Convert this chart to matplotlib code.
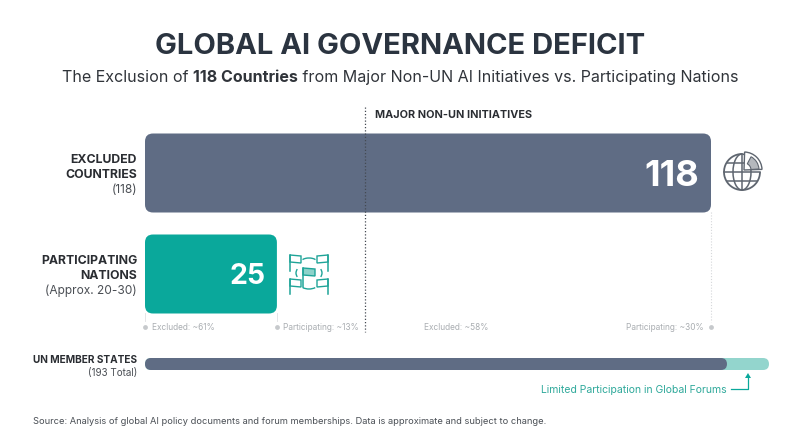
import matplotlib
matplotlib.use('Agg')
import matplotlib.pyplot as plt
from matplotlib.patches import FancyBboxPatch, Arc, Wedge, Polygon

plt.rcParams['font.family'] = ['Inter', 'DejaVu Sans']

# data
bar_names = ['excluded', 'participating']
bar_lengths = [118, 27.5]     # drawn length, the 25 bar is not to scale in the original
bar_values = ['118', '25']
bar_colors = ['#5f6c84', '#0aa89b']
un_total = 193
un_excluded = 180
share_labels = ['Excluded: ~61%', 'Participating: ~13%', 'Excluded: ~58%', 'Participating: ~30%']
share_x = [152, 283, 424, 626]

W, H = 800, 447
DARK = '#2b3440'
TEXT = '#30343a'
GREY = '#a9adb1'
SLATE = '#5f6c84'
TEAL = '#0aa89b'
TEAL_TXT = '#2fa99b'
LIGHT = '#93d5cd'

fig = plt.figure(figsize=(8, 4.47), dpi=100, facecolor='white')

def px_axes(x0, y0, x1, y1):
    return fig.add_axes([x0 / W, 1 - y1 / H, (x1 - x0) / W, (y1 - y0) / H])

# overlay in pixel coordinates for labels and icons
ov = fig.add_axes([0, 0, 1, 1], zorder=5)
ov.set_xlim(0, W)
ov.set_ylim(H, 0)
ov.axis('off')
ov.patch.set_alpha(0)

# main bars
ax = px_axes(145, 122.5, 711, 324.5)
ax.set_xlim(0, 118)
ax.set_ylim(1.5, -0.5)
ax.axis('off')
bar_h = 79 / 101
xpx = 566 / 118
aspect = (1 / 101) / (1 / xpx)
for i in range(len(bar_lengths)):
    ax.add_patch(FancyBboxPatch((0, i - bar_h / 2), bar_lengths[i], bar_h,
                                boxstyle='round,pad=0,rounding_size=%f' % (8 / xpx),
                                mutation_aspect=aspect, fc=bar_colors[i], ec='none',
                                clip_on=False))
    ax.annotate(bar_values[i], (bar_lengths[i], i), xytext=(-[8.5, 8.2][i], 0),
                textcoords='offset points', ha='right', va='center_baseline',
                color='white', fontweight='bold', fontsize=[26, 20.5][i])

# un bar
ax2 = px_axes(145, 358, 769, 370)
ax2.set_xlim(0, un_total)
ax2.set_ylim(0, 1)
ax2.axis('off')
upx = 624 / un_total
for val, col in [(un_total, LIGHT), (un_excluded, SLATE)]:
    ax2.add_patch(FancyBboxPatch((0, 0), val, 1,
                                 boxstyle='round,pad=0,rounding_size=%f' % (6 / upx),
                                 mutation_aspect=(1 / 12) * upx, fc=col, ec='none',
                                 clip_on=False))

# title
ov.text(400, 47, 'GLOBAL AI GOVERNANCE DEFICIT', ha='center', va='center',
        fontsize=21, fontweight='bold', color=DARK)

# subtitle with bold part, pieces chained left to right
rend = fig.canvas.get_renderer()
parts = [('The Exclusion of ', 'normal'), ('118 Countries', 'bold'),
         (' from Major Non-UN AI Initiatives vs. Participating Nations', 'normal')]
xpos = 62
for s, w in parts:
    t = ov.text(xpos, 77.5, s, ha='left', va='center', fontsize=11.55, fontweight=w, color=TEXT)
    xpos = ov.transData.inverted().transform(t.get_window_extent(rend))[1][0]

# row labels
def label(y, lines):
    for i, (s, w) in enumerate(lines):
        ov.text(137, y + i * 15, s, ha='right', va='center', fontsize=8.85 if w == 'bold' else 8.6,
                fontweight=w, color='#2a2d32' if w == 'bold' else '#4a4e54')

label(160, [('EXCLUDED', 'bold'), ('COUNTRIES', 'bold'), ('(118)', 'normal')])
label(261, [('PARTICIPATING', 'bold'), ('NATIONS', 'bold'), ('(Approx. 20-30)', 'normal')])
ov.text(137, 360, 'UN MEMBER STATES', ha='right', va='center', fontsize=7.25, fontweight='bold', color='#2a2d32')
ov.text(137, 373, '(193 Total)', ha='right', va='center', fontsize=7.1, color='#4a4e54')

# dividers
ov.plot([365, 365], [107, 332], color='#444a52', lw=0.9, ls=(0, (1, 1.6)))
ov.plot([711, 711], [212, 322], color='#d5d7da', lw=0.8, ls=(0, (1, 1.6)))
ov.plot([145, 145], [313, 321], color='#e4e5e7', lw=0.7)
ov.plot([277, 277], [313, 321], color='#e4e5e7', lw=0.7)
ov.text(375, 115, 'MAJOR NON-UN INITIATIVES', ha='left', va='center', fontsize=7.8,
        fontweight='bold', color='#2a2d32')

# share notes
for s, x in zip(share_labels, share_x):
    ov.text(x, 328, s, ha='left', va='center', fontsize=6.0, color=GREY)
ov.scatter([145, 277, 711], [327, 327, 327], s=12, color='#c6c9cc', lw=0)

# callout
ov.text(727, 390, 'Limited Participation in Global Forums', ha='right', va='center',
        fontsize=7.5, color=TEAL_TXT)
ov.plot([731, 748, 748], [389, 389, 377], color=TEAL, lw=0.9)
ov.add_patch(Polygon([[745, 378], [751, 378], [748, 373]], fc=TEAL, ec='none'))

# source
ov.text(33, 422, 'Source: Analysis of global AI policy documents and forum memberships. Data is approximate and subject to change.',
        ha='left', va='center', fontsize=6.68, color='#4a4f55')

# globe icon
gc = '#5f6670'
cx, cy, r = 742, 172, 18
ov.add_patch(Arc((cx, cy), 2 * r, 2 * r, theta1=0, theta2=270, angle=0, color=gc, lw=1.3))
ov.add_patch(Arc((cx, cy), r, 2 * r, theta1=0, theta2=360, color=gc, lw=1.1))
ov.plot([cx, cx], [cy - r, cy + r], color=gc, lw=1.1)
ov.plot([cx - r, cx + r], [cy, cy], color=gc, lw=1.1)
ov.plot([cx - 15, cx + 15], [cy - 9, cy - 9], color=gc, lw=1.1)
ov.plot([cx - 15, cx + 15], [cy + 9, cy + 9], color=gc, lw=1.1)
# wedge pulled out of the globe (y axis is inverted so angles run clockwise)
ov.add_patch(Wedge((744, 170), 18, -88, -2, fc='white', ec=gc, lw=1.0, zorder=4))
ov.add_patch(Wedge((744, 170), 15, -62, -4, width=8, fc='#b4b8bd', ec=gc, lw=0.8, zorder=4))

# flags icon
fc_ = '#1fa498'
def flag(x, y, d, h, fill='none'):
    ov.plot([x, x], [y, y + h], color=fc_, lw=1.1)
    pts = [[x, y], [x + d, y + 1], [x + d, y + 8], [x, y + 7]]
    ov.add_patch(Polygon(pts, closed=True, fc=fill, ec=fc_, lw=1.0))

flag(290, 255, 11, 16)
flag(328, 255, -11, 16)
flag(303, 268, 12, 19, fill='#8dd2ca')
flag(290, 279, 11, 15)
flag(328, 279, -11, 15)
ov.add_patch(Arc((309, 262), 16, 8, theta1=200, theta2=340, color=fc_, lw=1.0))
ov.add_patch(Arc((309, 284), 18, 10, theta1=30, theta2=150, color=fc_, lw=1.0))
ov.add_patch(Arc((304, 273), 16, 14, theta1=150, theta2=210, color=fc_, lw=1.0))
ov.add_patch(Arc((314, 273), 16, 14, theta1=-30, theta2=30, color=fc_, lw=1.0))

fig.savefig('out.png', dpi=100, facecolor='white')
